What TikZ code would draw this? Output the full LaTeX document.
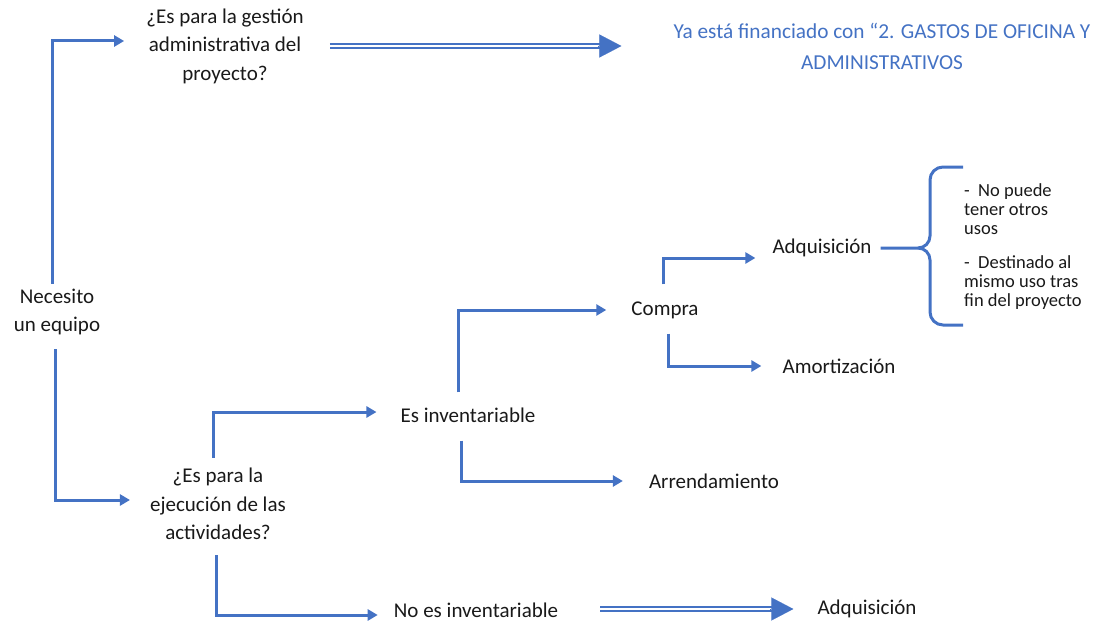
\documentclass[tikz,border=0pt]{standalone}
\usepackage{fontspec}
\setmainfont{Carlito}
\usetikzlibrary{arrows.meta,calc}
\definecolor{wblue}{HTML}{4472C4}
\begin{document}
\begin{tikzpicture}[x=1pt,y=-1pt,
  txt/.style={inner sep=0pt,align=center,font=\fontsize{21}{28.5}\selectfont,text=black!90},
  conn/.style={draw=wblue,line width=3pt,-{Triangle[length=10pt,width=11pt]}},
  dbl/.style={draw=wblue,double=white,double distance=2pt,line width=2.2pt,shorten >=19pt},
  dhead/.style={draw=wblue,fill=wblue,line width=0.1pt,-{Triangle[length=22pt,width=23pt]}},
  brace/.style={draw=wblue,line width=3pt}]
\useasboundingbox (0,0) rectangle (1102,623);
% nodes
\node[txt] (nec) at (57,312) {Necesito\\un equipo};
\node[txt] (q1) at (225,46) {¿Es para la gestión\\administrativa del\\proyecto?};
\node[txt,text=wblue,font=\fontsize{21.3}{31}\selectfont] (fin) at (882,46) {Ya está financiado con “2. GASTOS DE OFICINA Y\\ADMINISTRATIVOS};
\node[txt] (q2) at (218,504) {¿Es para la\\ejecución de las\\actividades?};
\node[txt] (esinv) at (468,415) {Es inventariable};
\node[txt] (noinv) at (476,610) {No es inventariable};
\node[txt] (adq2) at (867,609) {Adquisición};
\node[txt] (compra) at (665,310) {Compra};
\node[txt] (arr) at (714,481) {Arrendamiento};
\node[txt] (adq1) at (822,248) {Adquisición};
\node[txt] (amort) at (839,366) {Amortización};
\node[inner sep=0pt,anchor=north west,align=left,font=\fontsize{18.5}{19}\selectfont,text=black!90] (notes) at (964,183)
  {-\ \ No puede\\tener otros\\usos\\[15pt]-\ \ Destinado al\\mismo uso tras\\fin del proyecto};
% connectors
\coordinate (c1) at ($(nec.north)+(-5,-5)$);
\coordinate (t1) at ($(q1.west)+(-22,-5)$);
\draw[conn] (c1) |- (t1);
\coordinate (c2) at ($(nec.south)+(-2,14)$);
\coordinate (t2) at ($(q2.west)+(-20,-4)$);
\draw[conn] (c2) |- (t2);
\coordinate (d1s) at ($(q1.east)+(26,0)$);
\coordinate (d1e) at ($(fin.west)+(-52,0)$);
\draw[dbl] (d1s) -- (d1e);
\draw[dhead] ($(d1e)+(-23,0)$) -- (d1e);
\coordinate (c3) at ($(q2.north)+(-5,-10)$);
\coordinate (t3) at ($(esinv.west)+(-24,-3)$);
\draw[conn] (c3) |- (t3);
\coordinate (c4) at ($(q2.south)+(-2,15)$);
\coordinate (t4) at ($(noinv.west)+(-16,5)$);
\draw[conn] (c4) |- (t4);
\coordinate (d2s) at ($(noinv.east)+(42,-1)$);
\coordinate (d2e) at ($(adq2.west)+(-24,0)$);
\draw[dbl] (d2s) -- (d2e);
\draw[dhead] ($(d2e)+(-23,0)$) -- (d2e);
\coordinate (c5) at ($(esinv.north)+(-10,-15)$);
\coordinate (t5) at ($(compra.west)+(-25,0)$);
\draw[conn] (c5) |- (t5);
\coordinate (c6) at ($(esinv.south)+(-7,18)$);
\coordinate (t6) at ($(arr.west)+(-26,0)$);
\draw[conn] (c6) |- (t6);
\coordinate (c7) at ($(compra.north)+(-2,-17)$);
\coordinate (t7) at ($(adq1.west)+(-17,10)$);
\draw[conn] (c7) |- (t7);
\coordinate (c8) at ($(compra.south)+(3,15)$);
\coordinate (t8) at ($(amort.west)+(-21,0)$);
\draw[conn] (c8) |- (t8);
% brace
\coordinate (b0) at ($(adq1.east)+(9,0)$);
\draw[brace] (b0) -- (918,248) to[out=0,in=-90] (930,236) -- (930,180) to[out=90,in=180] (943,167) -- (963,167);
\draw[brace] (918,248) to[out=0,in=90] (930,260) -- (930,312) to[out=-90,in=180] (943,325) -- (963,325);
\end{tikzpicture}
\end{document}
